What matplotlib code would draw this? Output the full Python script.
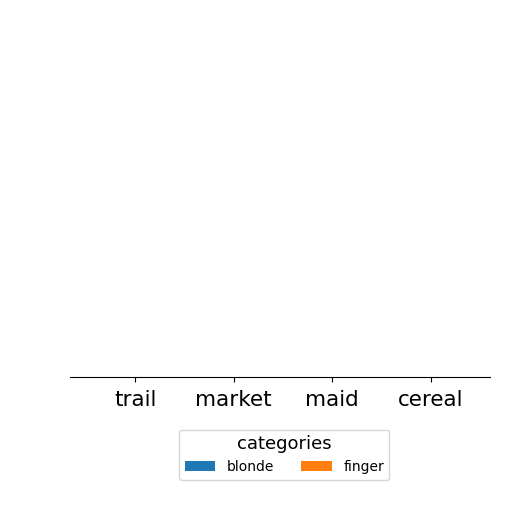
import matplotlib
matplotlib.use("Agg")
import matplotlib.pyplot as plt
import numpy as np

categories = ["trail", "market", "maid", "cereal"]
series_names = ["blonde", "finger"]
blonde = [0, 0, 0, 0]
finger = [0, 0, 0, 0]

fig = plt.figure(figsize=(5.12, 5.12), dpi=100)
ax = fig.add_axes([0.137, 0.264, 0.82, 0.69])

x = np.arange(len(categories))
w = 0.4
ax.bar(x - w / 2, blonde, w, color="#1f77b4", label=series_names[0])
ax.bar(x + w / 2, finger, w, color="#ff7f0e", label=series_names[1])

ax.set_xlim(-0.66, 3.6)
ax.set_ylim(0, 1)
ax.set_xticks(x)
ax.set_xticklabels(categories, fontsize=15.5)
ax.tick_params(axis="x", pad=6)
ax.set_yticks([])
for s in ["top", "right", "left"]:
    ax.spines[s].set_visible(False)

leg = ax.legend(title="categories", ncol=2, loc="upper center",
                bbox_to_anchor=(0.51, -0.13), fontsize=10, title_fontsize=13,
                handlelength=2.2, columnspacing=2.0)

fig.savefig("out.png", dpi=100)
